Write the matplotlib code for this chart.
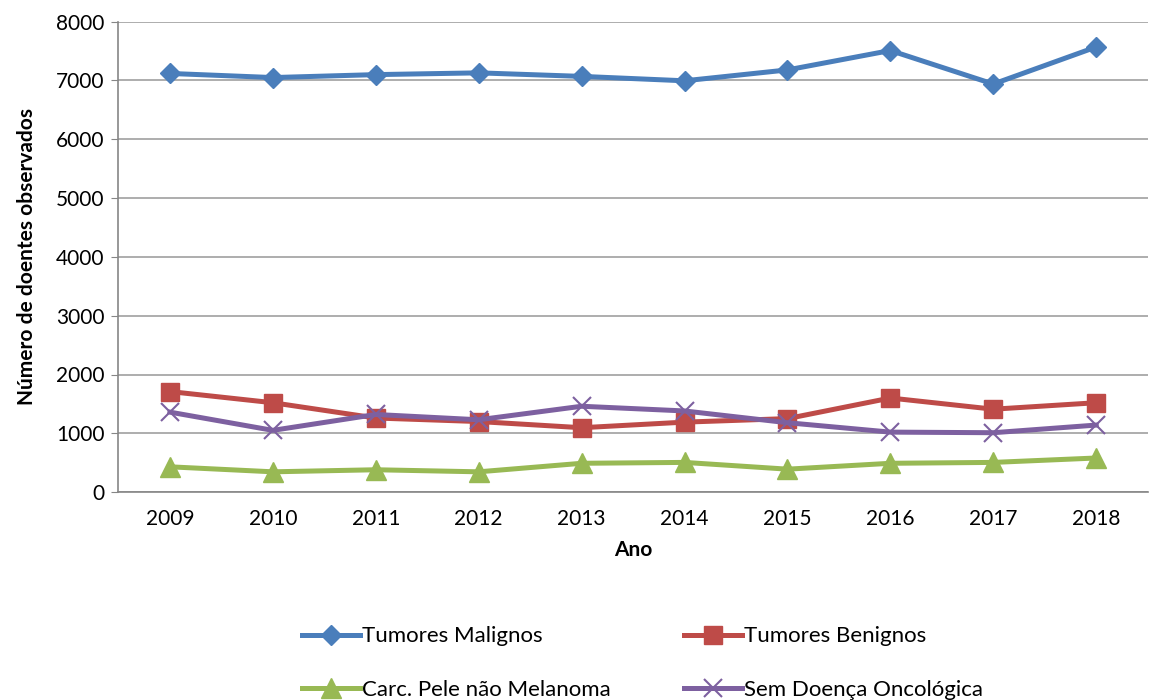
import matplotlib.pyplot as plt
import numpy as np

anos = ["2009", "2010", "2011", "2012", "2013", "2014", "2015", "2016", "2017", "2018"]
malignos = [7120, 7050, 7100, 7130, 7070, 6995, 7180, 7510, 6940, 7570]
benignos = [1710, 1520, 1260, 1200, 1095, 1190, 1250, 1600, 1410, 1520]
carc_pele = [430, 345, 380, 345, 490, 505, 390, 490, 505, 580]
sem_doenca = [1360, 1050, 1320, 1230, 1460, 1380, 1180, 1020, 1010, 1140]

plt.rcParams['font.family'] = ['Lato', 'DejaVu Sans']

fig = plt.figure(figsize=(11.5, 7), dpi=100)
ax = fig.add_axes([0.103, 0.297, 0.895, 0.672])

x = np.arange(len(anos))
lw = 3.6
l1, = ax.plot(x, malignos, color='#4a7ebb', lw=lw, marker='D', markersize=10, label='Tumores Malignos')
l2, = ax.plot(x, benignos, color='#be4b48', lw=lw, marker='s', markersize=13, label='Tumores Benignos')
l3, = ax.plot(x, carc_pele, color='#98b954', lw=lw, marker='^', markersize=14, label='Carc. Pele não Melanoma')
l4, = ax.plot(x, sem_doenca, color='#7d60a0', lw=lw, marker='x', markersize=13, markeredgewidth=1.5,
              label='Sem Doença Oncológica')

ax.set_xlim(-0.5, 9.5)
ax.set_ylim(0, 8000)
ax.set_yticks(range(0, 8001, 1000))
ax.set_xticks(x)
ax.set_xticklabels(anos)
ax.tick_params(axis='x', length=0, labelsize=15, pad=12)
ax.tick_params(axis='y', length=5, color='#868686', labelsize=15, pad=5)
ax.grid(axis='y', color='#a0a0a0', lw=1.2)
ax.set_axisbelow(True)
for s in ['top', 'right']:
    ax.spines[s].set_visible(False)
for s in ['left', 'bottom']:
    ax.spines[s].set_color('#868686')
    ax.spines[s].set_linewidth(1.2)

ax.set_xlabel('Ano', fontsize=15, fontweight='bold', labelpad=8)
ax.set_ylabel('Número de doentes observados', fontsize=15, fontweight='bold', labelpad=14)

# legend fills column by column, so order for rows: Malignos/Benignos, Carc/Sem
fig.legend([l1, l3, l2, l4], [l.get_label() for l in (l1, l3, l2, l4)],
           loc='upper left', bbox_to_anchor=(0.255, 0.118), ncol=2,
           frameon=False, fontsize=16, handlelength=2.6, handletextpad=0.1,
           columnspacing=3.3, labelspacing=1.5, borderaxespad=0)

fig.savefig('out.png', dpi=100)
